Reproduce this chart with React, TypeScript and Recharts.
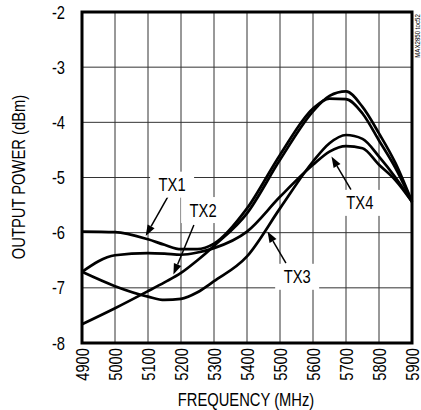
import { LineChart, Line, XAxis, YAxis, CartesianGrid, ReferenceArea, ReferenceDot, ReferenceLine, Label } from 'recharts';

const freq = [4900, 5000, 5100, 5150, 5200, 5250, 5300, 5400, 5500, 5600, 5650, 5700, 5750, 5800, 5850, 5900];
const tx1 = [-5.98, -5.99, -6.12, -6.22, -6.3, -6.3, -6.2, -5.56, -4.59, -3.75, -3.57, -3.58, -3.84, -4.33, -4.83, -5.44];
const tx2 = [-7.66, -7.37, -7.06, -6.9, -6.73, -6.5, -6.24, -5.65, -4.68, -3.8, -3.52, -3.44, -3.72, -4.2, -4.74, -5.44];
const tx3 = [-6.71, -6.97, -7.16, -7.22, -7.2, -7.08, -6.88, -6.43, -5.56, -4.71, -4.38, -4.23, -4.3, -4.62, -5.0, -5.44];
const tx4 = [-6.71, -6.41, -6.37, -6.38, -6.4, -6.36, -6.28, -5.98, -5.35, -4.77, -4.53, -4.43, -4.47, -4.77, -5.05, -5.44];

const xTicks = [4900, 5000, 5100, 5200, 5300, 5400, 5500, 5600, 5700, 5800, 5900];
const yTicks = [-8, -7, -6, -5, -4, -3, -2];

// callouts: label position, arrow tail, arrow tip (data units)
const callouts = [
  { name: 'TX1', at: [5173, -5.13], from: [5160, -5.35], to: [5093, -6.06] },
  { name: 'TX2', at: [5267, -5.59], from: [5239, -5.86], to: [5177, -6.76] },
  { name: 'TX3', at: [5552, -6.8], from: [5518, -6.55], to: [5462, -5.98] },
  { name: 'TX4', at: [5742, -5.46], from: [5715, -5.22], to: [5656, -4.62] },
];

const data = freq.map((f, i) => ({ f, tx1: tx1[i], tx2: tx2[i], tx3: tx3[i], tx4: tx4[i] }));

const FONT = "'Liberation Sans', Arial, sans-serif";
const NARROW = 0.82;

// narrow text: draws at (x, y) with optional rotation, squeezed along the text direction
const NText = ({ x, y, rotate = 0, anchor = 'middle', size = 18, children }: any) => (
  <g transform={`translate(${x},${y}) rotate(${rotate}) scale(${NARROW},1)`}>
    <text x={0} y={0} textAnchor={anchor} dominantBaseline="central" fontFamily={FONT} fontSize={size} fill="#000">
      {children}
    </text>
  </g>
);

const XTick = ({ x, y, payload }: any) => (
  <NText x={x} y={y} rotate={-90} anchor="end">
    {payload.value}
  </NText>
);

const YTick = ({ x, y, payload }: any) => (
  <NText x={x} y={y} anchor="end">
    {payload.value}
  </NText>
);

const LabelBox = ({ cx, cy, text }: any) => (
  <g>
    <rect x={cx - 22} y={cy - 13} width={44} height={26} fill="#fff" />
    <NText x={cx} y={cy}>{text}</NText>
  </g>
);

const Arrow = ({ x1, y1, x2, y2 }: any) => {
  const dx = x2 - x1;
  const dy = y2 - y1;
  const len = Math.sqrt(dx * dx + dy * dy) || 1;
  const ux = dx / len;
  const uy = dy / len;
  const hl = 11;
  const hw = 4;
  const bx = x2 - ux * hl;
  const by = y2 - uy * hl;
  return (
    <g>
      <line x1={x1} y1={y1} x2={bx} y2={by} stroke="#000" strokeWidth={1.5} />
      <polygon
        points={`${x2},${y2} ${bx - uy * hw},${by + ux * hw} ${bx + uy * hw},${by - ux * hw}`}
        fill="#000"
      />
    </g>
  );
};

export default function App() {
  return (
    <div style={{ position: 'absolute', left: 0, top: 0, background: '#fff' }}>
      <LineChart width={421} height={410} data={data} margin={{ top: 12, right: 9, bottom: 0, left: 0 }}>
        <CartesianGrid stroke="#333" strokeWidth={1} />
        <XAxis
          dataKey="f"
          type="number"
          domain={[4900, 5900]}
          ticks={xTicks}
          interval={0}
          height={67}
          tickLine={false}
          axisLine={false}
          tickSize={3}
          tickMargin={2}
          tick={<XTick />}
        >
          <Label content={() => <NText x={246} y={399}>FREQUENCY (MHz)</NText>} />
        </XAxis>
        <YAxis
          type="number"
          domain={[-8, -2]}
          ticks={yTicks}
          interval={0}
          width={82}
          tickLine={false}
          axisLine={false}
          tickSize={6}
          tickMargin={11}
          tick={<YTick />}
        >
          <Label content={() => <NText x={18} y={177} rotate={-90}>OUTPUT POWER (dBm)</NText>} />
        </YAxis>
        <Line type="monotone" dataKey="tx1" stroke="#000" strokeWidth={2.7} dot={false} isAnimationActive={false} />
        <Line type="monotone" dataKey="tx2" stroke="#000" strokeWidth={2.7} dot={false} isAnimationActive={false} />
        <Line type="monotone" dataKey="tx3" stroke="#000" strokeWidth={2.7} dot={false} isAnimationActive={false} />
        <Line type="monotone" dataKey="tx4" stroke="#000" strokeWidth={2.7} dot={false} isAnimationActive={false} />
        <ReferenceArea x1={4900} x2={5900} y1={-8} y2={-2} fill="none" stroke="#000" strokeWidth={3} ifOverflow="visible" />
        {callouts.map((c) => (
          <ReferenceLine
            key={c.name + '-arrow'}
            segment={[{ x: c.from[0], y: c.from[1] }, { x: c.to[0], y: c.to[1] }]}
            shape={<Arrow />}
            ifOverflow="visible"
          />
        ))}
        {callouts.map((c) => (
          <ReferenceDot
            key={c.name}
            x={c.at[0]}
            y={c.at[1]}
            r={1}
            ifOverflow="visible"
            shape={(p: any) => <LabelBox cx={p.cx} cy={p.cy} text={c.name} />}
          />
        ))}
        <ReferenceDot
          x={5900}
          y={-2}
          r={1}
          ifOverflow="visible"
          shape={(p: any) => (
            <NText x={p.cx + 5} y={p.cy + 24} rotate={-90} size={7.5}>
              MAX2850 toc52
            </NText>
          )}
        />
      </LineChart>
    </div>
  );
}
